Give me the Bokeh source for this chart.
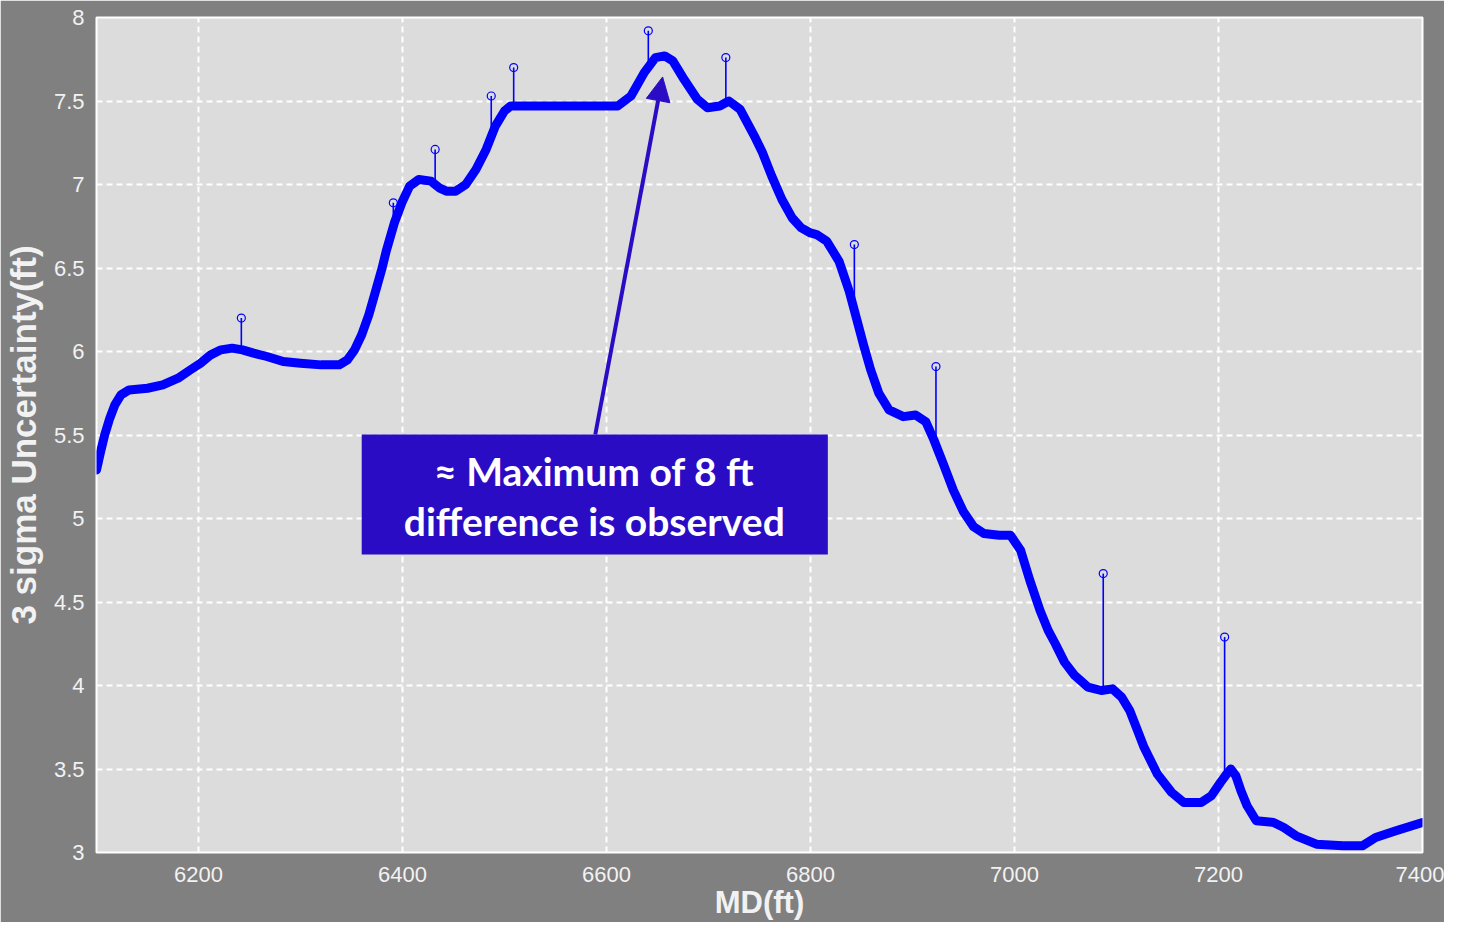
from bokeh.plotting import figure
from bokeh.models import Range1d, FixedTicker, NumeralTickFormatter, BoxAnnotation, Label, Arrow, NormalHead, ColumnDataSource
from bokeh.embed import file_html
from bokeh.resources import INLINE

# Curve: measured depth (ft) vs 3-sigma uncertainty (ft)
md = [6100, 6104, 6108, 6113, 6118, 6124, 6132, 6150, 6165, 6180, 6192, 6202, 6212, 6222,
      6233, 6243, 6254, 6267, 6283, 6300, 6320, 6338, 6346, 6353, 6360, 6367, 6374, 6380,
      6384, 6392, 6400, 6407, 6416, 6428, 6436, 6443, 6452, 6462, 6472, 6482, 6491, 6500,
      6506, 6540, 6580, 6611, 6624, 6637, 6648, 6657, 6665, 6676, 6689, 6699, 6711, 6720,
      6731, 6745, 6753, 6762, 6772, 6782, 6791, 6800, 6806, 6816, 6828, 6838, 6845, 6852,
      6859, 6867, 6877, 6891, 6903, 6913, 6921, 6930, 6940, 6950, 6960, 6970, 6985, 6996,
      7006, 7015, 7025, 7033, 7040, 7049, 7059, 7072, 7085, 7096, 7105, 7113, 7120, 7127,
      7140, 7154, 7166, 7183, 7193, 7202, 7208, 7212, 7217, 7222, 7228, 7237, 7254, 7264,
      7276, 7296, 7322, 7341, 7354, 7374, 7400]
sigma = [5.29, 5.40, 5.50, 5.60, 5.68, 5.74, 5.77, 5.78, 5.80, 5.84, 5.89, 5.93, 5.98, 6.01,
         6.02, 6.01, 5.99, 5.97, 5.94, 5.93, 5.92, 5.92, 5.95, 6.01, 6.10, 6.22, 6.37, 6.50,
         6.60, 6.77, 6.90, 6.99, 7.03, 7.02, 6.98, 6.96, 6.96, 7.00, 7.09, 7.21, 7.35, 7.44,
         7.47, 7.47, 7.47, 7.47, 7.53, 7.67, 7.76, 7.77, 7.74, 7.63, 7.51, 7.46, 7.47, 7.50,
         7.45, 7.29, 7.19, 7.05, 6.91, 6.80, 6.74, 6.71, 6.70, 6.66, 6.54, 6.36, 6.20, 6.04,
         5.89, 5.75, 5.65, 5.61, 5.62, 5.58, 5.47, 5.33, 5.17, 5.04, 4.95, 4.91, 4.90, 4.90,
         4.81, 4.63, 4.45, 4.33, 4.25, 4.14, 4.06, 3.99, 3.97, 3.98, 3.93, 3.85, 3.74, 3.63,
         3.47, 3.36, 3.30, 3.30, 3.34, 3.42, 3.47, 3.50, 3.46, 3.37, 3.28, 3.19, 3.18, 3.15,
         3.10, 3.05, 3.04, 3.04, 3.09, 3.13, 3.18]

# Spikes (single outlier points)
spike_md = [6242, 6391, 6432, 6487, 6509, 6641, 6717, 6843, 6923, 7087, 7206]
spike_top = [6.20, 6.89, 7.21, 7.53, 7.70, 7.92, 7.76, 6.64, 5.91, 4.67, 4.29]
spike_base = [6.01, 6.76, 7.02, 7.29, 7.47, 7.70, 7.49, 6.24, 5.42, 3.97, 3.47]

x_ticks = [6200, 6400, 6600, 6800, 7000, 7200, 7400]
y_ticks = [3, 3.5, 4, 4.5, 5, 5.5, 6, 6.5, 7, 7.5, 8]

annot_lines = ["\u2248 Maximum of 8 ft", "difference is observed"]

BG = "#808080"
BLUE = "#0000ff"
BOX = "#2a0cc4"
LBL = "#f2f2f2"

p = figure(width=1444, height=922, output_backend="svg", toolbar_location=None,
           x_range=Range1d(6100, 7400), y_range=Range1d(3, 8),
           background_fill_color="#dcdcdc", border_fill_color=BG,
           min_border_left=95, min_border_right=22, min_border_top=17, min_border_bottom=70)

p.outline_line_color = "white"
p.outline_line_width = 2

p.xaxis.ticker = FixedTicker(ticks=x_ticks)
p.yaxis.ticker = FixedTicker(ticks=y_ticks)
p.yaxis.formatter = NumeralTickFormatter(format="0.[0]")
for ax in (p.xaxis, p.yaxis):
    ax.axis_line_color = None
    ax.major_tick_line_color = None
    ax.minor_tick_line_color = None
    ax.major_label_text_color = LBL
    ax.major_label_text_font = "Liberation Sans"
    ax.major_label_text_font_size = "22px"
    ax.major_label_text_font_style = "normal"
    ax.axis_label_text_color = LBL
    ax.axis_label_text_font = "Liberation Sans"
    ax.axis_label_text_font_style = "bold"
p.xaxis.axis_label = "MD(ft)"
p.xaxis.axis_label_text_font_size = "31px"
p.xaxis.major_label_standoff = 8
p.xaxis.axis_label_standoff = 0
p.yaxis.axis_label = "3 sigma Uncertainty(ft)"
p.yaxis.axis_label_text_font_size = "35px"
p.yaxis.major_label_standoff = 6
p.yaxis.axis_label_standoff = 8

for g, t in ((p.xgrid, x_ticks), (p.ygrid, y_ticks)):
    g.ticker = FixedTicker(ticks=t)
    g.grid_line_color = "white"
    g.grid_line_dash = "6 4"
    g.grid_line_width = 2

# main curve (dense markers in the original appear as a thick band)
p.line(md, sigma, line_color=BLUE, line_width=9, line_join="round", line_cap="round")

# spikes
src = ColumnDataSource(dict(x=spike_md, top=spike_top, base=spike_base))
p.segment(x0="x", y0="base", x1="x", y1="top", source=src, line_color=BLUE, line_width=1.6)
p.scatter(x="x", y="top", source=src, marker="circle", size=8, fill_color=None,
          line_color=BLUE, line_width=1.2)

# annotation
box = BoxAnnotation(left=6360, right=6817, bottom=4.785, top=5.503,
                    fill_color=BOX, fill_alpha=1.0, line_color=None, level="overlay")
p.add_layout(box)
p.add_layout(Arrow(end=NormalHead(size=24, fill_color=BOX, line_color=BOX),
                   x_start=6589, y_start=5.503, x_end=6655, y_end=7.644,
                   line_color=BOX, line_width=4))
for txt, yy in zip(annot_lines, [5.284, 4.987]):
    p.add_layout(Label(x=6588, y=yy, text=txt, text_align="center", text_baseline="middle",
                       text_color="white", text_font="Lato", text_font_style="bold",
                       text_font_size="39px", level="overlay"))

open("out.html", "w").write(file_html(p, INLINE))
